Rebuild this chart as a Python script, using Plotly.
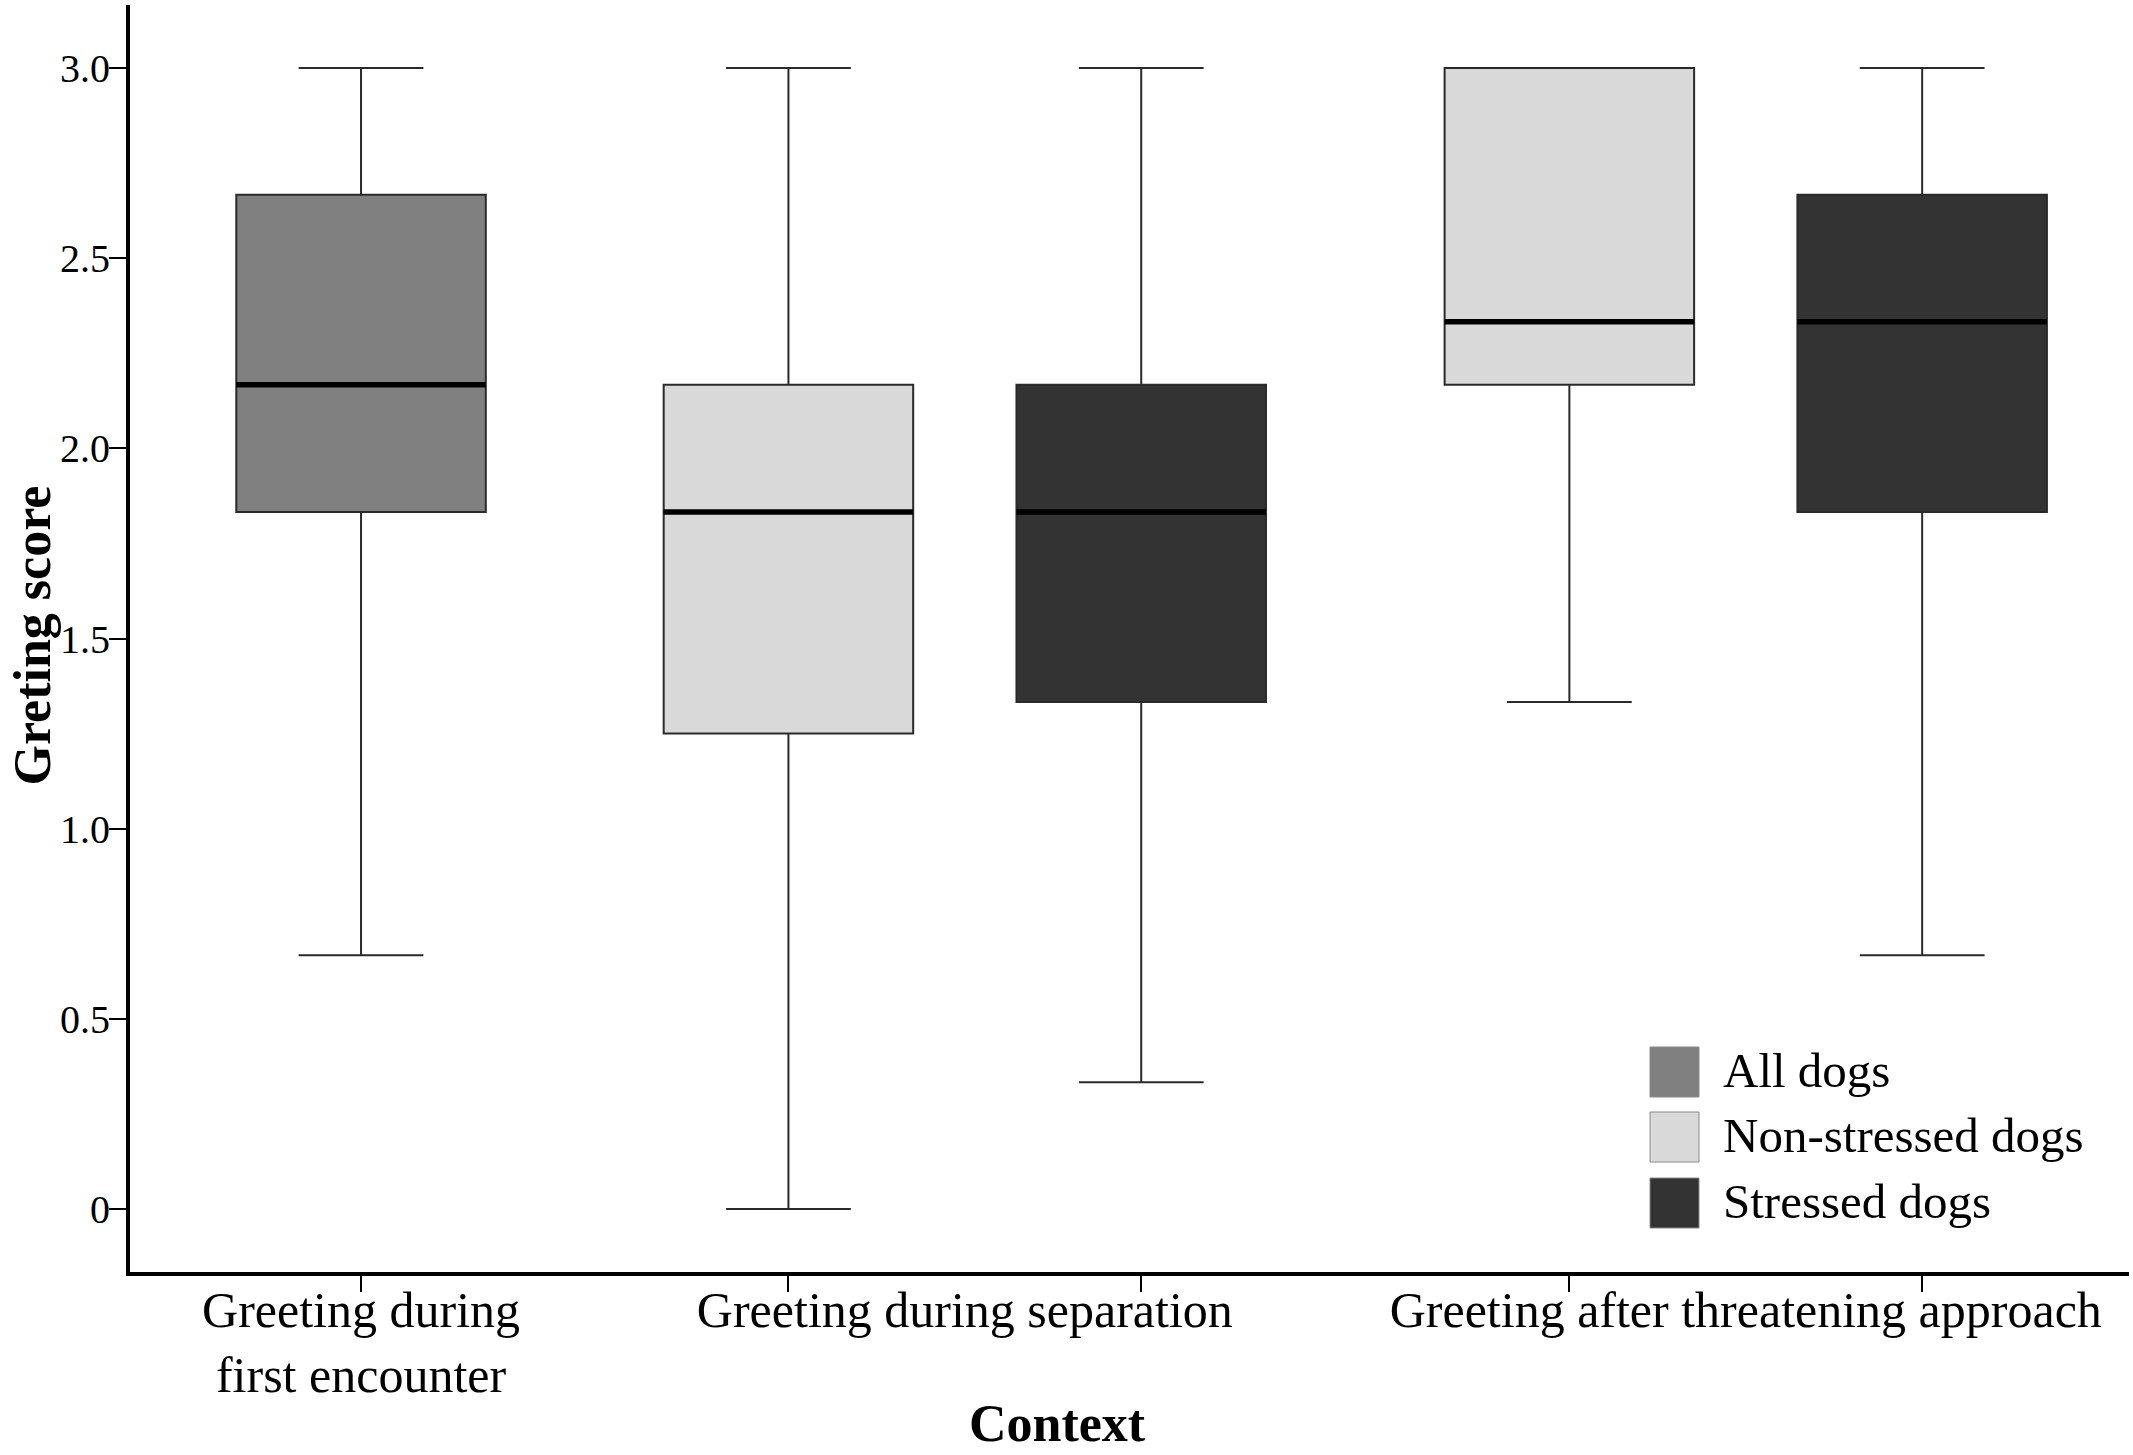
import plotly.graph_objects as go

# ---- data -------------------------------------------------------------
contexts = ["Greeting during<br>first encounter",
            "Greeting during separation",
            "Greeting after threatening approach"]
groups = ["All dogs", "Non-stressed dogs", "Stressed dogs"]

# context index of every box, per group
all_ctx = [0]
all_low = [0.667]
all_q1 = [1.833]
all_med = [2.167]
all_q3 = [2.667]
all_high = [3.0]

non_ctx = [1, 2]
non_low = [0.0, 1.333]
non_q1 = [1.25, 2.167]
non_med = [1.833, 2.333]
non_q3 = [2.167, 3.0]
non_high = [3.0, 3.0]

str_ctx = [1, 2]
str_low = [0.333, 0.667]
str_q1 = [1.333, 1.833]
str_med = [1.833, 2.333]
str_q3 = [2.167, 2.667]
str_high = [3.0, 3.0]

y_tickvals = [0, 0.5, 1.0, 1.5, 2.0, 2.5, 3.0]
y_ticktext = ["0", "0.5", "1.0", "1.5", "2.0", "2.5", "3.0"]

# ---- layout constants ---------------------------------------------------
ctx_center = [0.0, 2.42, 5.55]      # x of each context cluster
group_offset = [0.0, -0.707, 0.707]  # box offset inside a cluster
colors = ["#808080", "#d9d9d9", "#333333"]
FONT = "Liberation Serif"
W, H = 2133, 1455
ML, MR, MT, MB = 130, 4, 5, 183

series = [
    (all_ctx, all_low, all_q1, all_med, all_q3, all_high),
    (non_ctx, non_low, non_q1, non_med, non_q3, non_high),
    (str_ctx, str_low, str_q1, str_med, str_q3, str_high),
]

fig = go.Figure()
box_positions = []
for gi, (ctx, low, q1, med, q3, high) in enumerate(series):
    xs = [ctx_center[c] + group_offset[gi] for c in ctx]
    box_positions += xs
    fig.add_trace(go.Box(
        name=groups[gi], x=xs, q1=q1, median=med, q3=q3,
        lowerfence=low, upperfence=high,
        width=1.0, whiskerwidth=0.5,
        fillcolor=colors[gi],
        line=dict(color="#2a2a2a", width=2),
        boxpoints=False, showlegend=False,
    ))
    # thick median bar drawn on top
    mx, my = [], []
    for x, m in zip(xs, med):
        mx += [x - 0.5, x + 0.5, None]
        my += [m, m, None]
    fig.add_trace(go.Scatter(
        x=mx, y=my, mode="lines", xaxis="x2",
        line=dict(color="black", width=5.5),
        showlegend=False, hoverinfo="skip",
    ))

xrange = [-0.926, 7.086]
pw = W - ML - MR
ph = H - MT - MB


def px_x(p):
    return (p - ML) / pw


def px_y(p):
    return (H - MB - p) / ph


# legend drawn by hand so the keys can be as large as in the original
shapes = []
annotations = []
row_y = [1072, 1137, 1203]
for gi, g in enumerate(groups):
    shapes.append(dict(
        type="rect", xref="paper", yref="paper",
        x0=px_x(1650), x1=px_x(1699),
        y0=px_y(row_y[gi] + 25), y1=px_y(row_y[gi] - 25),
        fillcolor=colors[gi], line=dict(color="#8a8a8a", width=1),
    ))
    annotations.append(dict(
        xref="paper", yref="paper", x=px_x(1721), y=px_y(row_y[gi] - 2),
        xanchor="left", yanchor="middle", showarrow=False,
        text=g, font=dict(family=FONT, size=49, color="black"),
    ))

# axis titles
annotations.append(dict(
    xref="paper", yref="paper", x=px_x(1057), y=px_y(H - 1),
    xanchor="center", yanchor="bottom", showarrow=False,
    text="<b>Context</b>", font=dict(family=FONT, size=52, color="black"),
))
annotations.append(dict(
    xref="paper", yref="paper", x=px_x(1), y=px_y(636),
    xanchor="left", yanchor="middle", showarrow=False, textangle=-90,
    text="<b>Greting score</b>", font=dict(family=FONT, size=52, color="black"),
))

fig.update_layout(
    width=W, height=H,
    margin=dict(l=ML, r=MR, t=MT, b=MB),
    paper_bgcolor="white", plot_bgcolor="white",
    boxmode="overlay",
    font=dict(family=FONT, color="black"),
    xaxis=dict(
        range=xrange, tickmode="array", tickvals=box_positions,
        showticklabels=False, ticks="outside", ticklen=16, tickwidth=2,
        tickcolor="black", showline=True, linewidth=4, linecolor="black",
        showgrid=False, zeroline=False,
    ),
    xaxis2=dict(
        range=xrange, overlaying="x", anchor="y", side="bottom",
        tickmode="array", tickvals=ctx_center, ticktext=contexts,
        ticks="", showline=False, showgrid=False, zeroline=False,
        tickfont=dict(family=FONT, size=50, color="black"),
        ticklabelstandoff=4,
    ),
    yaxis=dict(
        range=[-0.166, 3.166], tickmode="array", tickvals=y_tickvals,
        ticktext=y_ticktext, ticks="outside", ticklen=17, tickwidth=2,
        tickcolor="black", showline=True, linewidth=4, linecolor="black",
        showgrid=False, zeroline=False,
        tickfont=dict(family=FONT, size=40, color="black"),
        ticklabelstandoff=-9,
    ),
    shapes=shapes,
    annotations=annotations,
)

# the page's default body margin would push the figure off its place
fig.write_html("out.html", config={"displayModeBar": False},
               post_script="document.body.style.margin='0px';")
